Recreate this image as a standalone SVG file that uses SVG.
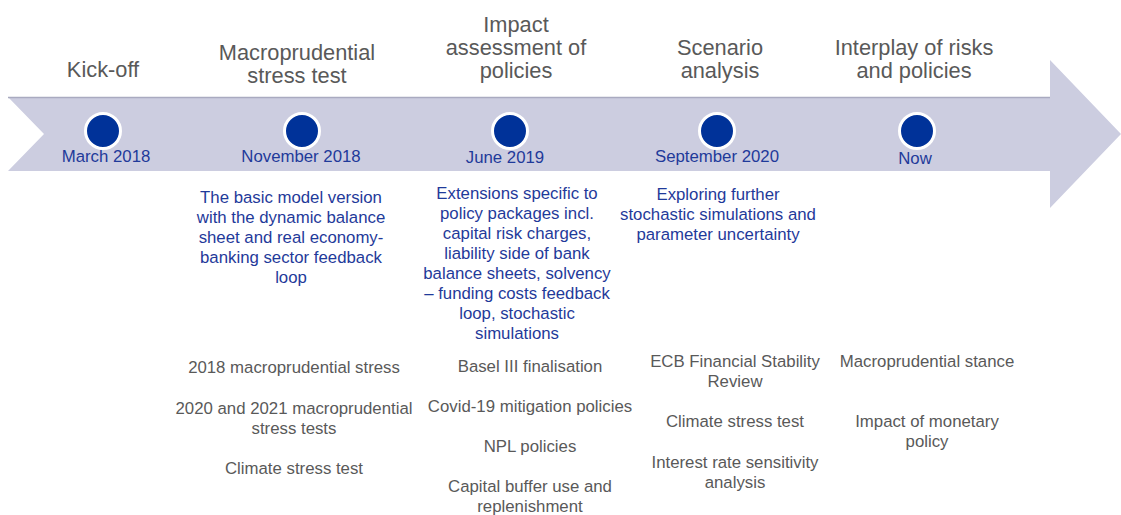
<svg xmlns="http://www.w3.org/2000/svg" width="1121" height="515" viewBox="0 0 1121 515">
<style>
text{font-family:"Liberation Sans",Arial,sans-serif;text-anchor:middle}
.title{font-size:21.8px;fill:#595959}
.date{font-size:16.8px;fill:#1F3A9A}
.desc{font-size:16.8px;fill:#1F3A9A}
.item{font-size:16.8px;fill:#595959}
.dot{fill:#003299;stroke:#ffffff;stroke-width:3}
</style>
<rect width="1121" height="515" fill="#ffffff"/>
<g id="arrow">
<path d="M8,97 L1050,97 L1050,60 L1121,134 L1050,208 L1050,171 L8,171 L44,134 Z" fill="#CCCDE0"/>
<line x1="8" y1="97.5" x2="1050" y2="97.5" stroke="#A9AAC0" stroke-width="1.5"/>
</g>
<g id="connectors"></g>
<g id="kickoff">
<text class="title" x="103" y="77">Kick-off</text>
<circle class="dot" cx="103" cy="131" r="17.5"/>
<text class="date" x="106" y="162">March 2018</text>
</g>
<g id="macro">
<text class="title" x="297" y="60">Macroprudential</text>
<text class="title" x="297" y="83">stress test</text>
<circle class="dot" cx="302" cy="131" r="17.5"/>
<text class="date" x="301" y="162">November 2018</text>
<text class="desc" x="291" y="203">The basic model version</text>
<text class="desc" x="291" y="223">with the dynamic balance</text>
<text class="desc" x="291" y="243">sheet and real economy-</text>
<text class="desc" x="291" y="263">banking sector feedback</text>
<text class="desc" x="291" y="283">loop</text>
<text class="item" x="294" y="373">2018 macroprudential stress</text>
<text class="item" x="294" y="414">2020 and 2021 macroprudential</text>
<text class="item" x="294" y="434">stress tests</text>
<text class="item" x="294" y="474">Climate stress test</text>
</g>
<g id="impact">
<text class="title" x="516" y="32">Impact</text>
<text class="title" x="516" y="55">assessment of</text>
<text class="title" x="516" y="78">policies</text>
<circle class="dot" cx="510" cy="131" r="17.5"/>
<text class="date" x="505" y="163">June 2019</text>
<text class="desc" x="517" y="199">Extensions specific to</text>
<text class="desc" x="517" y="219">policy packages incl.</text>
<text class="desc" x="517" y="239">capital risk charges,</text>
<text class="desc" x="517" y="259">liability side of bank</text>
<text class="desc" x="517" y="279">balance sheets, solvency</text>
<text class="desc" x="517" y="299">– funding costs feedback</text>
<text class="desc" x="517" y="319">loop, stochastic</text>
<text class="desc" x="517" y="339">simulations</text>
<text class="item" x="530" y="372">Basel III finalisation</text>
<text class="item" x="530" y="412">Covid-19 mitigation policies</text>
<text class="item" x="530" y="452">NPL policies</text>
<text class="item" x="530" y="492">Capital buffer use and</text>
<text class="item" x="530" y="512">replenishment</text>
</g>
<g id="scenario">
<text class="title" x="720" y="55">Scenario</text>
<text class="title" x="720" y="78">analysis</text>
<circle class="dot" cx="717" cy="131" r="17.5"/>
<text class="date" x="717" y="162">September 2020</text>
<text class="desc" x="718" y="200">Exploring further</text>
<text class="desc" x="718" y="220">stochastic simulations and</text>
<text class="desc" x="718" y="240">parameter uncertainty</text>
<text class="item" x="735" y="367">ECB Financial Stability</text>
<text class="item" x="735" y="387">Review</text>
<text class="item" x="735" y="427">Climate stress test</text>
<text class="item" x="735" y="468">Interest rate sensitivity</text>
<text class="item" x="735" y="488">analysis</text>
</g>
<g id="interplay">
<text class="title" x="914" y="55">Interplay of risks</text>
<text class="title" x="914" y="78">and policies</text>
<circle class="dot" cx="917" cy="131" r="17.5"/>
<text class="date" x="915" y="164">Now</text>
<text class="item" x="927" y="367">Macroprudential stance</text>
<text class="item" x="927" y="427">Impact of monetary</text>
<text class="item" x="927" y="447">policy</text>
</g>
</svg>
